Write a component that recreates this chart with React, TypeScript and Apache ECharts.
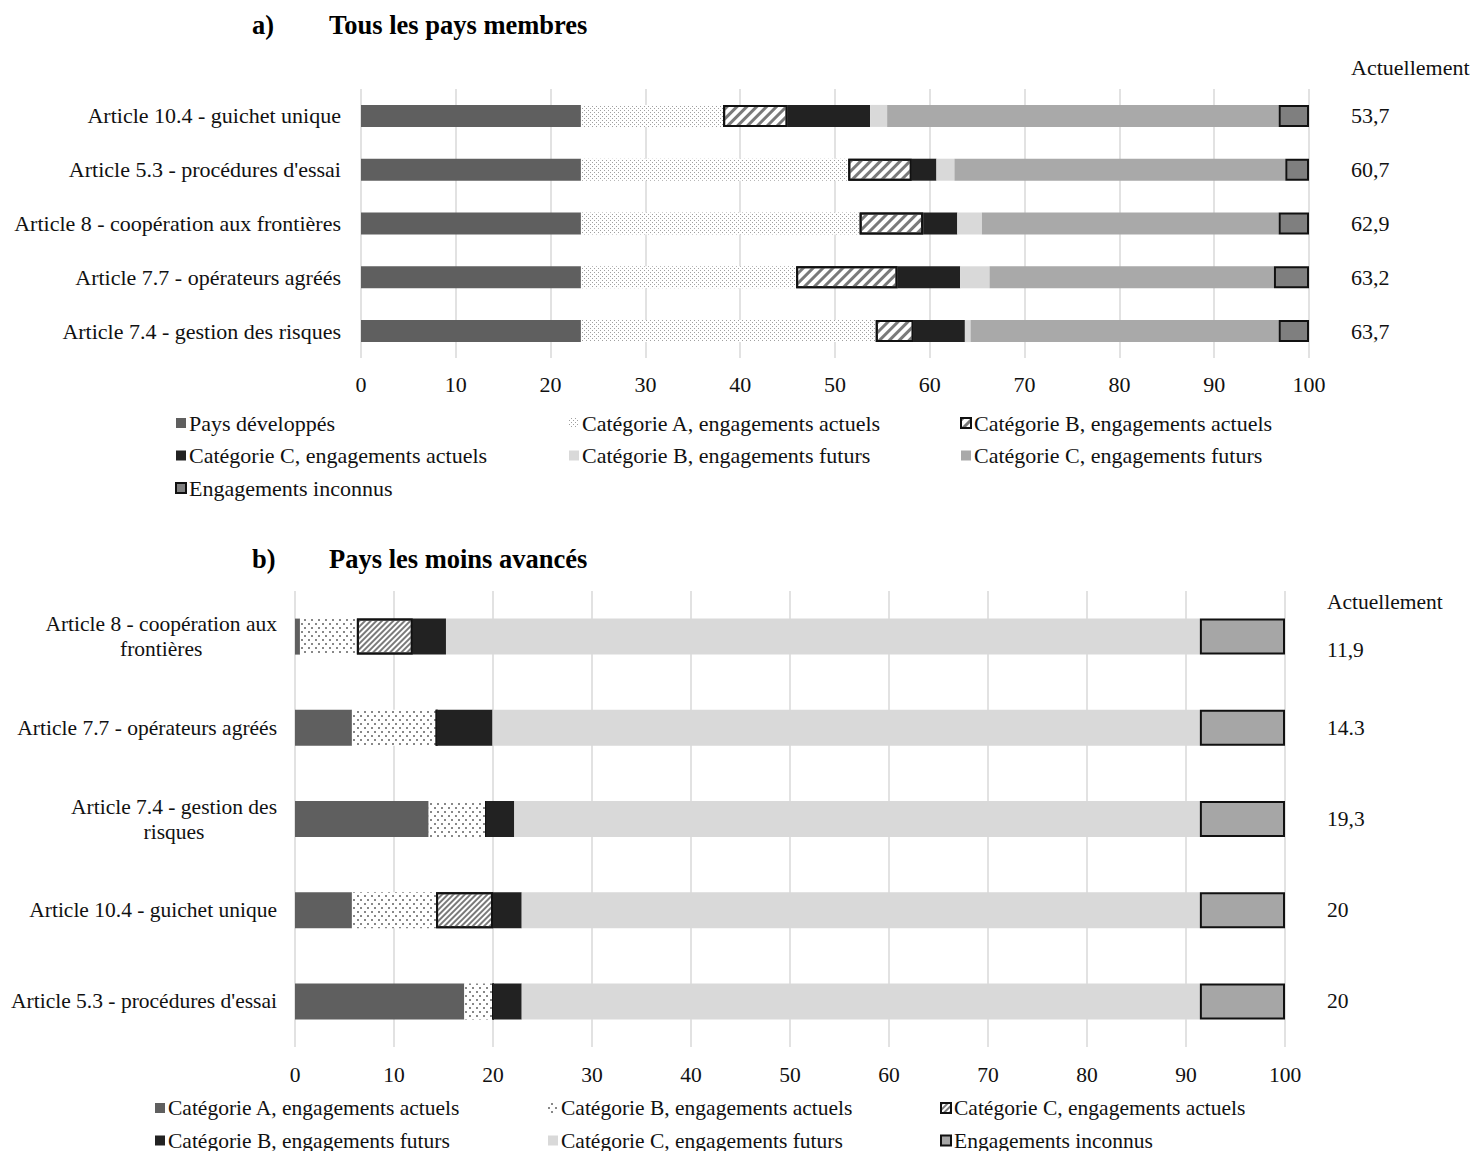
import React, { useEffect, useRef } from "react";
import * as echarts from "echarts";

// ---------- Data: a) Tous les pays membres ----------
const topCategories = [
  "Article 10.4 - guichet unique",
  "Article 5.3 - procédures d'essai",
  "Article 8 - coopération aux frontières",
  "Article 7.7 - opérateurs agréés",
  "Article 7.4 - gestion des risques",
];
const topPaysDeveloppes = [23.2, 23.2, 23.2, 23.2, 23.2];
const topCatAActuels = [15.0, 28.2, 29.4, 22.7, 31.1];
const topCatBActuels = [6.8, 6.7, 6.7, 10.7, 4.0];
const topCatCActuels = [8.7, 2.6, 3.6, 6.6, 5.4];
const topCatBFuturs = [1.8, 1.9, 2.6, 3.1, 0.6];
const topCatCFuturs = [41.3, 34.9, 31.3, 30.0, 32.5];
const topInconnus = [3.2, 2.5, 3.2, 3.7, 3.2];
const topActuellement = ["53,7", "60,7", "62,9", "63,2", "63,7"];

// ---------- Data: b) Pays les moins avancés ----------
const botCategories = [
  "Article 8 - coopération aux\nfrontières",
  "Article 7.7 - opérateurs agréés",
  "Article 7.4 - gestion des\nrisques",
  "Article 10.4 - guichet unique",
  "Article 5.3 - procédures d'essai",
];
const botCatAActuels = [0.5, 5.75, 13.5, 5.75, 17.1];
const botCatBActuels = [5.75, 8.55, 5.8, 8.5, 2.9];
const botCatCActuels = [5.65, 0, 0, 5.75, 0];
const botCatBFuturs = [3.35, 5.65, 2.85, 2.9, 2.9];
const botCatCFuturs = [76.15, 71.45, 69.25, 68.5, 68.5];
const botInconnus = [8.6, 8.6, 8.6, 8.6, 8.6];
const botActuellement = ["11,9", "14.3", "19,3", "20", "20"];

const FONT = '"Liberation Serif", "Times New Roman", serif';
const TXT = "#111";

const dotDecalTop = {
  symbol: "rect",
  symbolSize: 1,
  color: "#a0a0a0",
  dashArrayX: [[1, 3], [0, 2, 1, 1]],
  dashArrayY: [1, 1],
  rotation: 0,
};
const dotDecalBot = {
  symbol: "rect",
  symbolSize: 1,
  color: "#888",
  dashArrayX: [[1.5, 4.5], [0, 3, 1.5, 1.5]],
  dashArrayY: [1.5, 1.5],
  rotation: 0,
};
const hatchDecalTop = {
  symbol: "rect",
  symbolSize: 1,
  color: "#7a7a7a",
  dashArrayX: [1, 0],
  dashArrayY: [3, 3.5],
  rotation: -Math.PI / 4,
};
const hatchDecalBot = {
  symbol: "rect",
  symbolSize: 1,
  color: "#7a7a7a",
  dashArrayX: [1, 0],
  dashArrayY: [1.5, 2],
  rotation: -Math.PI / 4,
};

function bar(name: string, data: number[], width: number, itemStyle: any) {
  return {
    name,
    type: "bar",
    stack: "total",
    barWidth: width,
    data,
    itemStyle,
    emphasis: { disabled: true },
  };
}

function legendCol(left: number, top: number, names: string[], fontSize: number) {
  return {
    orient: "vertical",
    left,
    top,
    height: 120,
    data: names,
    icon: "rect",
    itemWidth: 10,
    itemHeight: 10,
    itemGap: 10.5,
    padding: 0,
    selectedMode: false,
    textStyle: { fontFamily: FONT, fontSize, color: TXT, padding: [0, 0, 0, -2] },
  };
}

function topOption(): any {
  const s = [
    bar("Pays développés", topPaysDeveloppes, 22, { color: "#5f5f5f" }),
    bar("Catégorie A, engagements actuels", topCatAActuels, 22, { color: "#ffffff", decal: dotDecalTop }),
    bar("Catégorie B, engagements actuels", topCatBActuels, 22, {
      color: "#ffffff",
      decal: hatchDecalTop,
      borderColor: "#111",
      borderWidth: 2,
    }),
    bar("Catégorie C, engagements actuels", topCatCActuels, 22, { color: "#222222" }),
    bar("Catégorie B, engagements futurs", topCatBFuturs, 22, { color: "#d9d9d9" }),
    bar("Catégorie C, engagements futurs", topCatCFuturs, 22, { color: "#a9a9a9" }),
    bar("Engagements inconnus", topInconnus, 22, { color: "#7f7f7f", borderColor: "#111", borderWidth: 2 }),
  ];
  return {
    animation: false,
    textStyle: { fontFamily: FONT },
    grid: { left: 361, right: 166, top: 89, bottom: 157, containLabel: false },
    xAxis: {
      type: "value",
      min: 0,
      max: 100,
      interval: 10,
      axisLine: { show: false },
      axisTick: { show: false },
      splitLine: { show: true, lineStyle: { color: "#d9d9d9", width: 1.5 } },
      axisLabel: { fontFamily: FONT, fontSize: 22, color: TXT, margin: 15 },
    },
    yAxis: [
      {
        type: "category",
        inverse: true,
        data: topCategories,
        axisLine: { show: false },
        axisTick: { show: false },
        axisLabel: { fontFamily: FONT, fontSize: 22, color: TXT, margin: 20 },
      },
      {
        type: "category",
        inverse: true,
        position: "right",
        data: topActuellement,
        axisLine: { show: false },
        axisTick: { show: false },
        axisLabel: { fontFamily: FONT, fontSize: 22, color: TXT, margin: 42, align: "left" },
      },
    ],
    legend: [
      legendCol(175, 412, ["Pays développés", "Catégorie C, engagements actuels", "Engagements inconnus"], 22),
      legendCol(569, 412, ["Catégorie A, engagements actuels", "Catégorie B, engagements futurs"], 22),
      legendCol(960, 412, ["Catégorie B, engagements actuels", "Catégorie C, engagements futurs"], 22),
    ],
    graphic: [
      { type: "text", left: 252, top: 11, style: { text: "a)", font: `bold 26.5px ${FONT}`, fill: "#000" } },
      {
        type: "text",
        left: 329,
        top: 11,
        style: { text: "Tous les pays membres", font: `bold 26.5px ${FONT}`, fill: "#000" },
      },
      { type: "text", left: 1351, top: 56, style: { text: "Actuellement", font: `22px ${FONT}`, fill: TXT } },
    ],
    series: s,
  };
}

function botOption(): any {
  const s = [
    bar("Catégorie A, engagements actuels", botCatAActuels, 36, { color: "#5f5f5f" }),
    bar("Catégorie B, engagements actuels", botCatBActuels, 36, { color: "#ffffff", decal: dotDecalBot }),
    bar("Catégorie C, engagements actuels", botCatCActuels, 36, {
      color: "#ffffff",
      decal: hatchDecalBot,
      borderColor: "#111",
      borderWidth: 2,
    }),
    bar("Catégorie B, engagements futurs", botCatBFuturs, 36, { color: "#222222" }),
    bar("Catégorie C, engagements futurs", botCatCFuturs, 36, { color: "#d9d9d9" }),
    bar("Engagements inconnus", botInconnus, 36, { color: "#a6a6a6", borderColor: "#111", borderWidth: 2 }),
  ];
  return {
    animation: false,
    textStyle: { fontFamily: FONT },
    grid: { left: 295, right: 190, top: 76, bottom: 104, containLabel: false },
    xAxis: {
      type: "value",
      min: 0,
      max: 100,
      interval: 10,
      axisLine: { show: false },
      axisTick: { show: false },
      splitLine: { show: true, lineStyle: { color: "#d9d9d9", width: 1.5 } },
      axisLabel: { fontFamily: FONT, fontSize: 21.5, color: TXT, margin: 17 },
    },
    yAxis: [
      {
        type: "category",
        inverse: true,
        data: botCategories,
        axisLine: { show: false },
        axisTick: { show: false },
        axisLabel: {
          fontFamily: FONT,
          fontSize: 21.5,
          color: TXT,
          margin: 18,
          lineHeight: 25,
          formatter: (v: string) =>
            v.indexOf("\n") >= 0 ? v.split("\n").map((l) => `{c|${l}}`).join("\n") : v,
          rich: { c: { align: "center", fontFamily: FONT, fontSize: 21.5, color: TXT, lineHeight: 25 } },
        },
      },
      {
        type: "category",
        inverse: true,
        position: "right",
        data: botActuellement,
        axisLine: { show: false },
        axisTick: { show: false },
        axisLabel: {
          fontFamily: FONT,
          fontSize: 21.5,
          color: TXT,
          margin: 42,
          align: "left",
          lineHeight: 26,
          formatter: (v: string, i: number) => (i === 0 ? "\n" + v : v),
        },
      },
    ],
    legend: [
      legendCol(155, 582, ["Catégorie A, engagements actuels", "Catégorie B, engagements futurs"], 21.5),
      legendCol(548, 582, ["Catégorie B, engagements actuels", "Catégorie C, engagements futurs"], 21.5),
      legendCol(940, 582, ["Catégorie C, engagements actuels", "Engagements inconnus"], 21.5),
    ],
    graphic: [
      { type: "text", left: 252, top: 30, style: { text: "b)", font: `bold 26.5px ${FONT}`, fill: "#000" } },
      {
        type: "text",
        left: 329,
        top: 30,
        style: { text: "Pays les moins avancés", font: `bold 26.5px ${FONT}`, fill: "#000" },
      },
      { type: "text", left: 1327, top: 76, style: { text: "Actuellement", font: `21.5px ${FONT}`, fill: TXT } },
    ],
    series: s,
  };
}

function Chart({ option, top, height }: { option: any; top: number; height: number }) {
  const ref = useRef<HTMLDivElement>(null);
  useEffect(() => {
    if (!ref.current) return;
    const chart = echarts.init(ref.current, undefined, { renderer: "svg" });
    chart.setOption(option);
    return () => chart.dispose();
  }, [option]);
  return <div ref={ref} style={{ position: "absolute", left: 0, top, width: 1475, height }} />;
}

const TOP_OPT = topOption();
const BOT_OPT = botOption();

export default function App() {
  return (
    <div
      style={{
        position: "absolute",
        left: 0,
        top: 0,
        width: 1475,
        height: 1151,
        overflow: "hidden",
        background: "#fff",
      }}
    >
      <Chart option={TOP_OPT} top={0} height={515} />
      <Chart option={BOT_OPT} top={515} height={636} />
    </div>
  );
}
